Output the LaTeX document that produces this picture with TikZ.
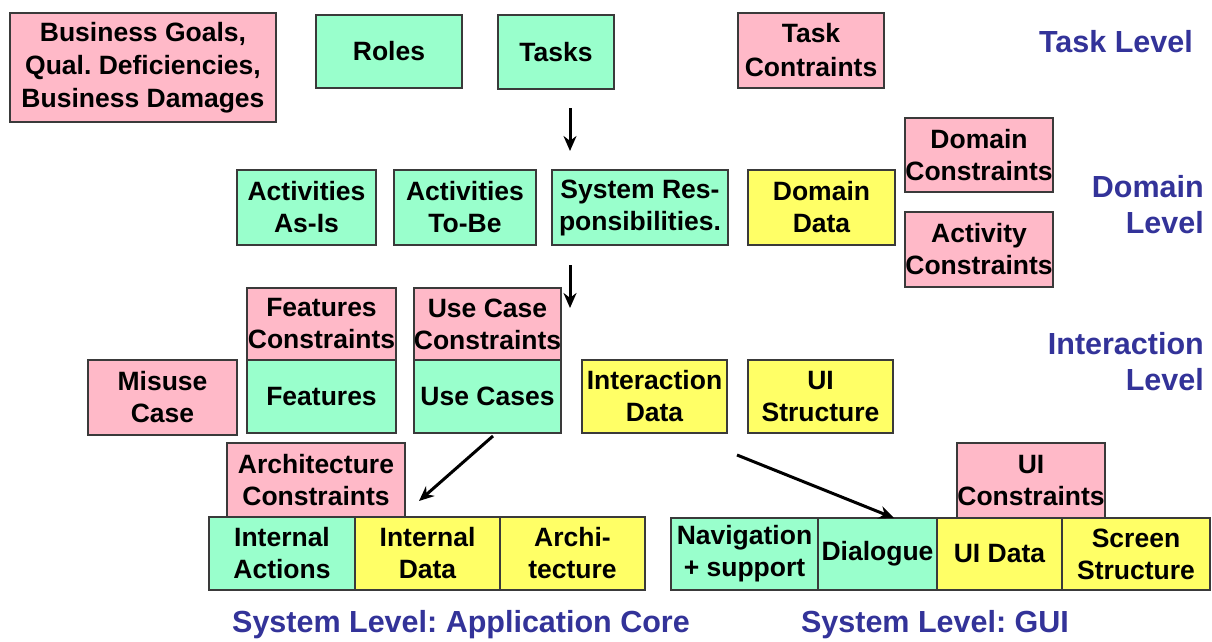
\documentclass[tikz,border=0pt]{standalone}
\usepackage{fontspec}
\setmainfont{Liberation Sans}
\usetikzlibrary{arrows.meta,calc}
\definecolor{cpink}{HTML}{FFB9C8}
\definecolor{cgreen}{HTML}{99FFCC}
\definecolor{cyellow}{HTML}{FFFF66}
\definecolor{clevel}{HTML}{333399}
\definecolor{cborder}{HTML}{3A3A3A}
\frenchspacing
\begin{document}
\begin{tikzpicture}[x=1pt,y=-1pt,
 box/.style={draw=cborder,line width=1.3pt,inner sep=0pt,align=center,font=\fontsize{26.5}{32}\selectfont\bfseries},
 pinkbox/.style={box,fill=cpink},
 greenbox/.style={box,fill=cgreen},
 yellowbox/.style={box,fill=cyellow},
 lvl/.style={text=clevel,inner sep=0pt,font=\fontsize{30.5}{36}\selectfont\bfseries},
 arr/.style={line width=3pt,-{Stealth[length=15pt,width=13pt]}}]
\useasboundingbox[fill=white] (0,0) rectangle (1212,642);
% Task level
\node[pinkbox,minimum width=266pt,minimum height=109pt,font=\fontsize{26.5}{33}\selectfont\bfseries] (biz) at (143,67.5) {Business Goals,\\Qual. Deficiencies,\\Business Damages};
\node[greenbox,minimum width=146pt,minimum height=73pt] (roles) at (389,51.5) {Roles};
\node[greenbox,minimum width=116pt,minimum height=74pt] (tasks) at (556,52) {Tasks};
\node[pinkbox,minimum width=146pt,minimum height=75pt,font=\fontsize{26.5}{34}\selectfont\bfseries] (taskc) at (811,50.5) {Task\\Contraints};
\node[lvl,anchor=east] (lvltask) at (1193,42) {Task Level};
% Domain level
\node[greenbox,minimum width=139pt,minimum height=75pt] (asis) at (306.5,207.5) {Activities\\As-Is};
\node[greenbox,minimum width=142pt,minimum height=75pt] (tobe) at (465,207.5) {Activities\\To-Be};
\node[greenbox,minimum width=176pt,minimum height=75pt] (sysres) at (640,207.5) {System Res-\\ponsibilities.};
\node[yellowbox,minimum width=147pt,minimum height=75pt] (domdata) at (821.5,207.5) {Domain\\Data};
\node[pinkbox,minimum width=148pt,minimum height=74pt] (domc) at (979,155) {Domain\\Constraints};
\node[pinkbox,minimum width=148pt,minimum height=75pt] (actc) at (979,249.5) {Activity\\Constraints};
\node[lvl,anchor=east,align=right] (lvldom) at (1204,205) {Domain\\Level};
% Interaction level
\node[pinkbox,minimum width=149pt,minimum height=72pt] (featc) at (321.5,324) {Features\\Constraints};
\node[greenbox,minimum width=149pt,minimum height=73pt] (feat) at (321.5,396.5) {Features};
\node[pinkbox,minimum width=147pt,minimum height=72pt] (ucc) at (487.5,324) {Use Case\\Constraints};
\node[greenbox,minimum width=147pt,minimum height=73pt] (uc) at (487.5,396.5) {Use Cases};
\node[pinkbox,minimum width=149pt,minimum height=75pt] (misuse) at (162.5,397.5) {Misuse\\Case};
\node[yellowbox,minimum width=145pt,minimum height=73pt] (idata) at (654.5,396.5) {Interaction\\Data};
\node[yellowbox,minimum width=145pt,minimum height=73pt] (uis) at (820.5,396.5) {UI\\Structure};
\node[lvl,anchor=east,align=right] (lvlint) at (1204,361.5) {Interaction\\Level};
% System level: application core
\node[pinkbox,minimum width=178pt,minimum height=74pt] (archc) at (316,480) {Architecture\\Constraints};
\node[greenbox,minimum width=146pt,minimum height=73pt] (ia) at (282,553.5) {Internal\\Actions};
\node[yellowbox,minimum width=145pt,minimum height=73pt] (id) at (427.5,553.5) {Internal\\Data};
\node[yellowbox,minimum width=145pt,minimum height=73pt] (arch) at (572.5,553.5) {Archi-\\tecture};
\node[lvl] (lvlcore) at (461,625) {System Level: Application Core};
% System level: GUI
\node[pinkbox,minimum width=148pt,minimum height=75pt] (uic) at (1031,480.5) {UI\\Constraints};
\node[greenbox,minimum width=147pt,minimum height=72pt] (nav) at (744.5,554) {Navigation\\+ support};
\node[greenbox,minimum width=119pt,minimum height=72pt] (dlg) at (877.5,554) {Dialogue};
\node[yellowbox,minimum width=125pt,minimum height=72pt] (uid) at (999.5,554) {UI Data};
\node[yellowbox,minimum width=148pt,minimum height=72pt] (scr) at (1136,554) {Screen\\Structure};
\node[lvl] (lvlgui) at (935,625) {System Level: GUI};
% arrows
\coordinate (a1s) at (570,108);
\coordinate (a1e) at (570,151);
\coordinate (a2s) at (570,265);
\coordinate (a2e) at (570,308);
\coordinate (a3s) at (493,436);
\coordinate (a3e) at (419,501);
\coordinate (a4s) at (737,455);
\coordinate (a4e) at (894,518);
\draw[arr] (a1s) -- (a1e);
\draw[arr] (a2s) -- (a2e);
\draw[arr] (a3s) -- (a3e);
\draw[arr] (a4s) -- (a4e);
\end{tikzpicture}
\end{document}
